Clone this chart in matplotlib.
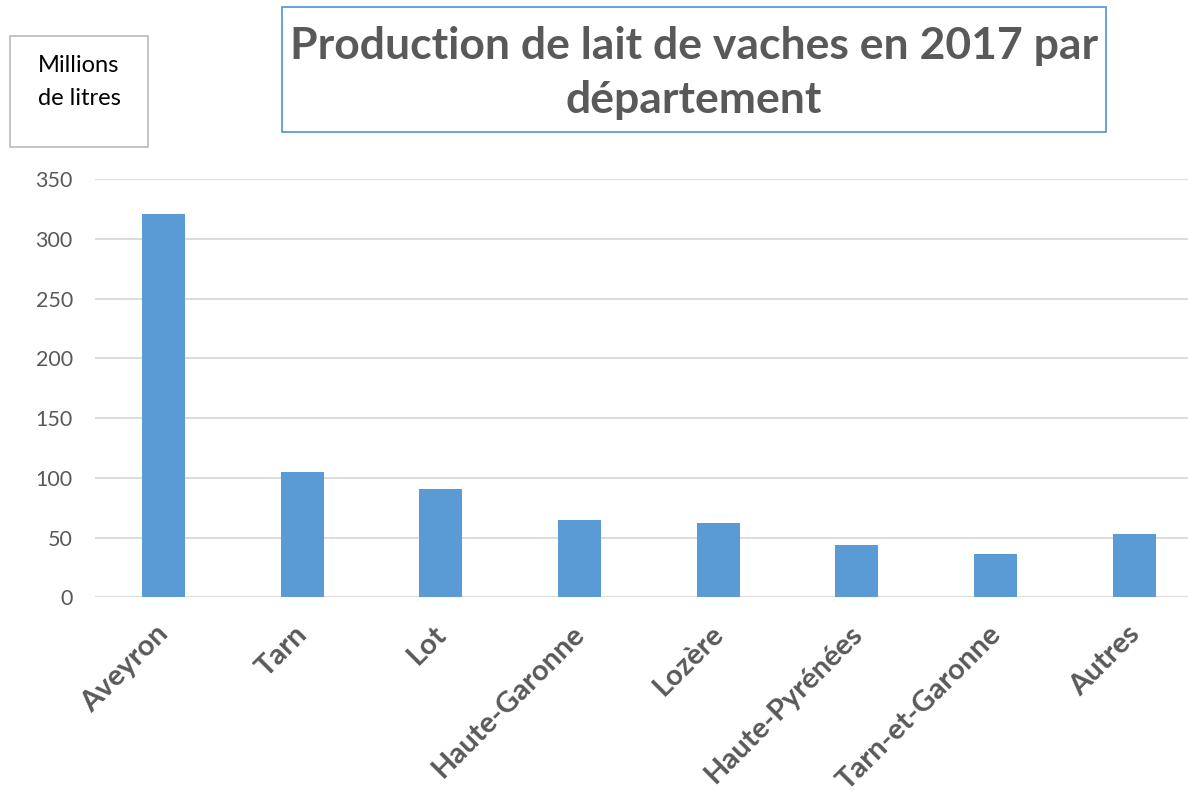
import matplotlib
matplotlib.use("Agg")
import matplotlib.pyplot as plt
import matplotlib.transforms as mtransforms
from matplotlib.patches import Rectangle

categories = ["Aveyron", "Tarn", "Lot", "Haute-Garonne", "Lozère",
              "Haute-Pyrénées", "Tarn-et-Garonne", "Autres"]
values = [321, 105, 91, 65, 62, 44, 36, 53]
yticks = [0, 50, 100, 150, 200, 250, 300, 350]

W, H = 1188, 793
fig = plt.figure(figsize=(W / 100, H / 100), dpi=100)
plt.rcParams['font.family'] = ['Lato', 'DejaVu Sans']

def fx(px):
    return px / W

def fy(py):
    return 1 - py / H

ax_left, ax_right = 95, 1188
ax_top, ax_bot = 179.3, 597.2
ax = fig.add_axes([fx(ax_left), fy(ax_bot), fx(ax_right - ax_left), (ax_bot - ax_top) / H])

x = list(range(len(categories)))
ax.bar(x, values, width=0.31, color="#5B9BD5", zorder=3)
ax.set_xlim(-0.493, 7.387)
ax.set_ylim(0, 350)
ax.set_yticks(yticks)
ax.set_yticklabels([str(v) for v in yticks], fontsize=15.5, color="#595959")
ax.yaxis.grid(True, color="#D9D9D9", linewidth=1.3, zorder=0)
ax.set_axisbelow(True)
for s in ax.spines.values():
    s.set_visible(False)
ax.tick_params(axis='y', length=0, pad=16)
ax.tick_params(axis='x', length=0, pad=14)
ax.set_xticks(x)
ax.set_xticklabels(categories, rotation=45, ha='right', va='top',
                   rotation_mode='anchor', fontsize=21, fontweight='bold',
                   color="#595959")
offset = mtransforms.ScaledTranslation(-8 / 100, -4 / 100, fig.dpi_scale_trans)
for lab in ax.get_xticklabels():
    lab.set_transform(lab.get_transform() + offset)

# Title box
fig.patches.append(Rectangle((fx(282), fy(132)), fx(1106 - 282), (132 - 7) / H,
                             transform=fig.transFigure, facecolor='white',
                             edgecolor='#5B9BD5', linewidth=1.3))
fig.text(fx(694), fy(73), "Production de lait de vaches en 2017 par\ndépartement",
         ha='center', va='center', fontsize=32, fontweight='bold',
         color="#595959", linespacing=1.45)

# Y-axis unit box
fig.patches.append(Rectangle((fx(10), fy(147)), fx(148 - 10), (147 - 36) / H,
                             transform=fig.transFigure, facecolor='white',
                             edgecolor='#BFBFBF', linewidth=1.3))
fig.text(fx(79), fy(82), "Millions\nde litres", ha='center', va='center',
         fontsize=17, color="#000000", linespacing=1.75)

fig.savefig("out.png", dpi=100)
